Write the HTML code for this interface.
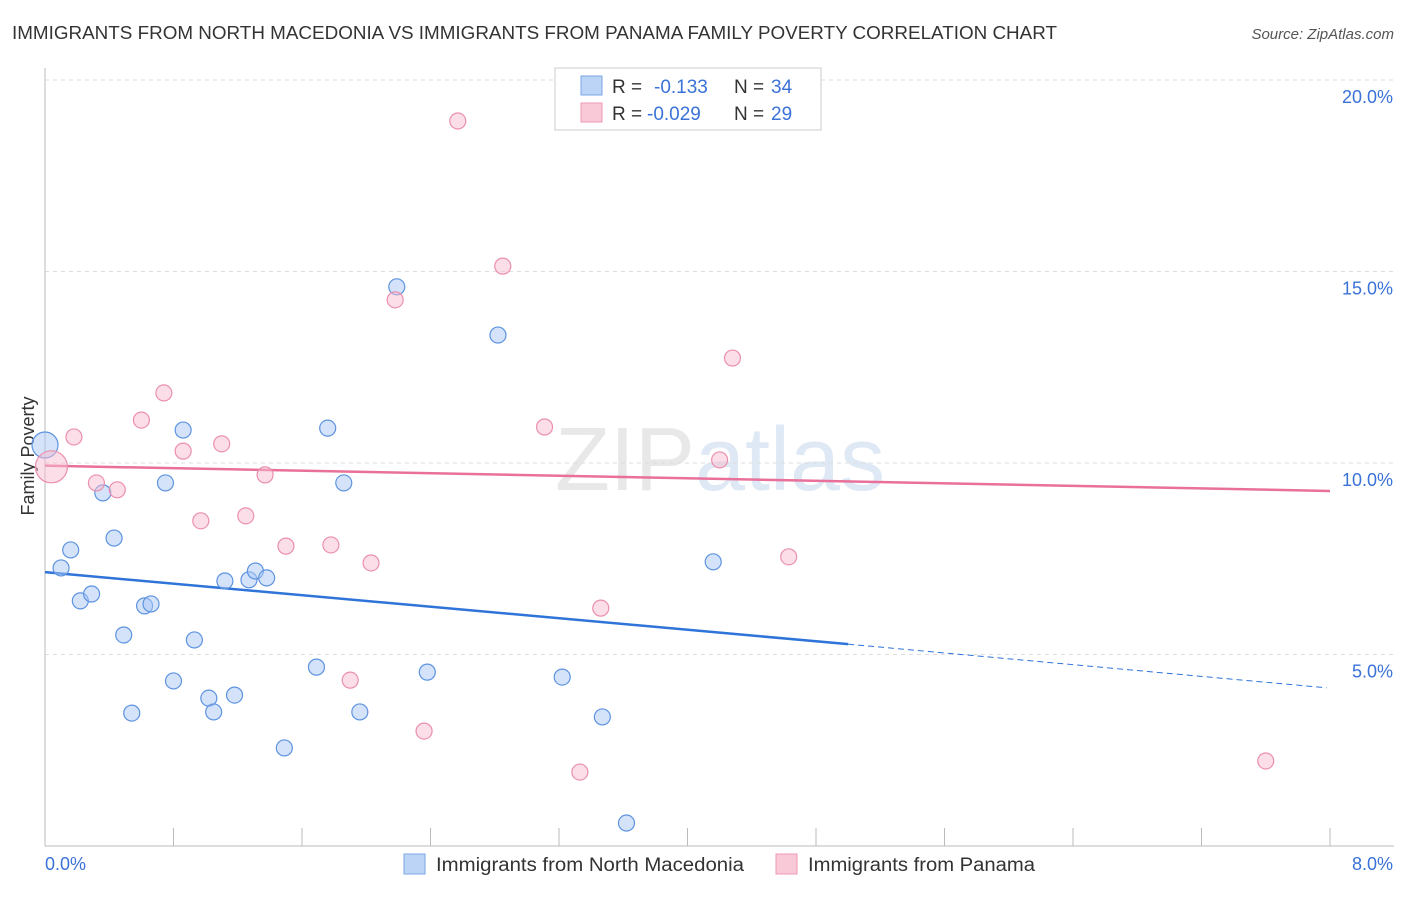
<!DOCTYPE html>
<html><head><meta charset="utf-8">
<style>
body{margin:0;background:#fff;font-family:"Liberation Sans",sans-serif;}
svg text{font-family:"Liberation Sans",sans-serif;}
</style></head>
<body>
<svg id="chart" width="1406" height="892" xmlns="http://www.w3.org/2000/svg">
<text x="12" y="39" font-size="18" fill="#333" textLength="1045" lengthAdjust="spacingAndGlyphs">IMMIGRANTS FROM NORTH MACEDONIA VS IMMIGRANTS FROM PANAMA FAMILY POVERTY CORRELATION CHART</text>
<text x="1394" y="39" font-size="15" fill="#555" text-anchor="end" font-style="italic">Source: ZipAtlas.com</text>
<text x="720" y="490" font-size="90" fill="#e8e8e8" text-anchor="middle" font-family="Liberation Serif">ZIP<tspan fill="#dfe9f5" font-family="Liberation Sans">atlas</tspan></text>
<text transform="translate(34,456) rotate(-90)" font-size="18" fill="#333" text-anchor="middle">Family Poverty</text>
<g id="grid"></g>
<g id="axes"></g>
<g id="trend"></g>
<g id="points"></g>
<g>
<rect x="555" y="68" width="266" height="62" fill="#fff" stroke="#ccc"/>
<rect x="581" y="76" width="21" height="19" fill="#bcd4f5" stroke="#7aa6e6"/>
<rect x="581" y="103" width="21" height="19" fill="#f9c9d7" stroke="#ee99b3"/>
<text x="612" y="93" font-size="19" fill="#333">R =</text>
<text x="654" y="93" font-size="19" fill="#3a72d8">-0.133</text>
<text x="734" y="93" font-size="19" fill="#333">N =</text>
<text x="771" y="93" font-size="19" fill="#3a72d8">34</text>
<text x="612" y="120" font-size="19" fill="#333">R =</text>
<text x="647" y="120" font-size="19" fill="#3a72d8">-0.029</text>
<text x="734" y="120" font-size="19" fill="#333">N =</text>
<text x="771" y="120" font-size="19" fill="#3a72d8">29</text>
</g>
<g>
<rect x="404" y="854" width="21" height="20" fill="#bcd4f5" stroke="#7aa6e6"/>
<text x="436" y="871" font-size="19" fill="#333" textLength="308" lengthAdjust="spacingAndGlyphs">Immigrants from North Macedonia</text>
<rect x="776" y="854" width="21" height="20" fill="#f9c9d7" stroke="#ee99b3"/>
<text x="808" y="871" font-size="19" fill="#333" textLength="227" lengthAdjust="spacingAndGlyphs">Immigrants from Panama</text>
</g>
</svg>
<script>
const yTicks=[5,10,15,20];
const yTickLabels=["5.0%","10.0%","15.0%","20.0%"];
const xTickLabels=["0.0%","8.0%"];
const blueX=[0.00,0.10,0.16,0.22,0.29,0.36,0.43,0.49,0.54,0.62,0.66,0.75,0.80,0.86,0.93,1.02,1.05,1.12,1.18,1.27,1.31,1.38,1.49,1.69,1.76,1.86,1.96,2.19,2.38,2.82,3.22,3.47,3.62,4.16];
const blueY=[10.47,7.26,7.73,6.40,6.58,9.22,8.04,5.51,3.47,6.27,6.32,9.48,4.31,10.86,5.38,3.86,3.50,6.92,3.94,6.95,7.18,7.00,2.56,4.67,10.91,9.48,3.50,14.60,4.54,13.34,4.41,3.37,0.60,7.42];
const pinkX=[0.04,0.18,0.32,0.45,0.60,0.74,0.86,0.97,1.10,1.25,1.37,1.50,1.78,1.90,2.03,2.18,2.36,2.57,2.85,3.11,3.33,3.46,4.20,4.28,4.63,7.60];
const pinkY=[9.90,10.68,9.48,9.30,11.12,11.83,10.31,8.49,10.50,8.62,9.69,7.83,7.86,4.33,7.39,14.26,3.00,18.93,15.14,10.94,1.93,6.21,10.08,12.74,7.55,2.22];
const blueTrend=[7.15,5.27,4.13];
const blueTrendX=[0,5.0,7.98];
const pinkTrend=[9.93,9.27];
const pinkTrendX=[0,8];
const NS="http://www.w3.org/2000/svg";
const X=v=>45+v/8*1285;
const Y=v=>846-v/5*191.5;
function mk(tag,attrs,parent){const e=document.createElementNS(NS,tag);for(const k in attrs)e.setAttribute(k,attrs[k]);document.getElementById(parent).appendChild(e);return e;}
yTicks.forEach((t,i)=>{
 const l=mk('line',{x1:45,x2:1394,y1:Y(t),y2:Y(t),stroke:'#ddd','stroke-dasharray':'4,4'},'grid');
 
 
 const tx=mk('text',{x:1393,y:Y(t)+23,'font-size':18,fill:'#3a72d8','text-anchor':'end'},'axes');
 tx.textContent=yTickLabels[i];
 
 
});
const t80=mk('line',{x1:45,x2:1394,y1:80,y2:80,stroke:'#ddd','stroke-dasharray':'4,4'},'grid');


const ax=mk('line',{x1:45,x2:1394,y1:846,y2:846,stroke:'#bbb'},'axes');


const ay=mk('line',{x1:45,x2:45,y1:68,y2:846,stroke:'#bbb'},'axes');


for(let i=0;i<=10;i++){
 const tk=mk('line',{x1:X(i*0.8),x2:X(i*0.8),y1:828,y2:846,stroke:'#bbb'},'axes');
 
 
}
[[0,'start'],[8,'end']].forEach((p,i)=>{
 const tx=mk('text',{x:X(p[0])+(i?63:0),y:870,'font-size':18,fill:'#3a72d8','text-anchor':p[1]},'axes');
 tx.textContent=xTickLabels[i];
 
 
});
const bt1=mk('line',{x1:X(blueTrendX[0]),y1:Y(blueTrend[0]),x2:X(blueTrendX[1]),y2:Y(blueTrend[1]),stroke:'#2f74d8','stroke-width':2.5},'trend');


const bt2=mk('line',{x1:X(blueTrendX[1]),y1:Y(blueTrend[1]),x2:X(blueTrendX[2]),y2:Y(blueTrend[2]),stroke:'#2f74d8','stroke-width':1,'stroke-dasharray':'6,4'},'trend');


const pt=mk('line',{x1:X(pinkTrendX[0]),y1:Y(pinkTrend[0]),x2:X(pinkTrendX[1]),y2:Y(pinkTrend[1]),stroke:'#e8709a','stroke-width':2.5},'trend');


blueX.forEach((v,i)=>{
 const c=mk('circle',{cx:X(v),cy:Y(blueY[i]),r:i===0?13:8,fill:'rgba(170,200,245,0.5)',stroke:'#5d93e0','stroke-width':1.2},'points');
 
 
});
pinkX.forEach((v,i)=>{
 const c=mk('circle',{cx:X(v),cy:Y(pinkY[i]),r:i===0?16:8,fill:'rgba(248,190,208,0.5)',stroke:'#eb8fae','stroke-width':1.2},'points');
 
 
});
</script>
</body></html>
